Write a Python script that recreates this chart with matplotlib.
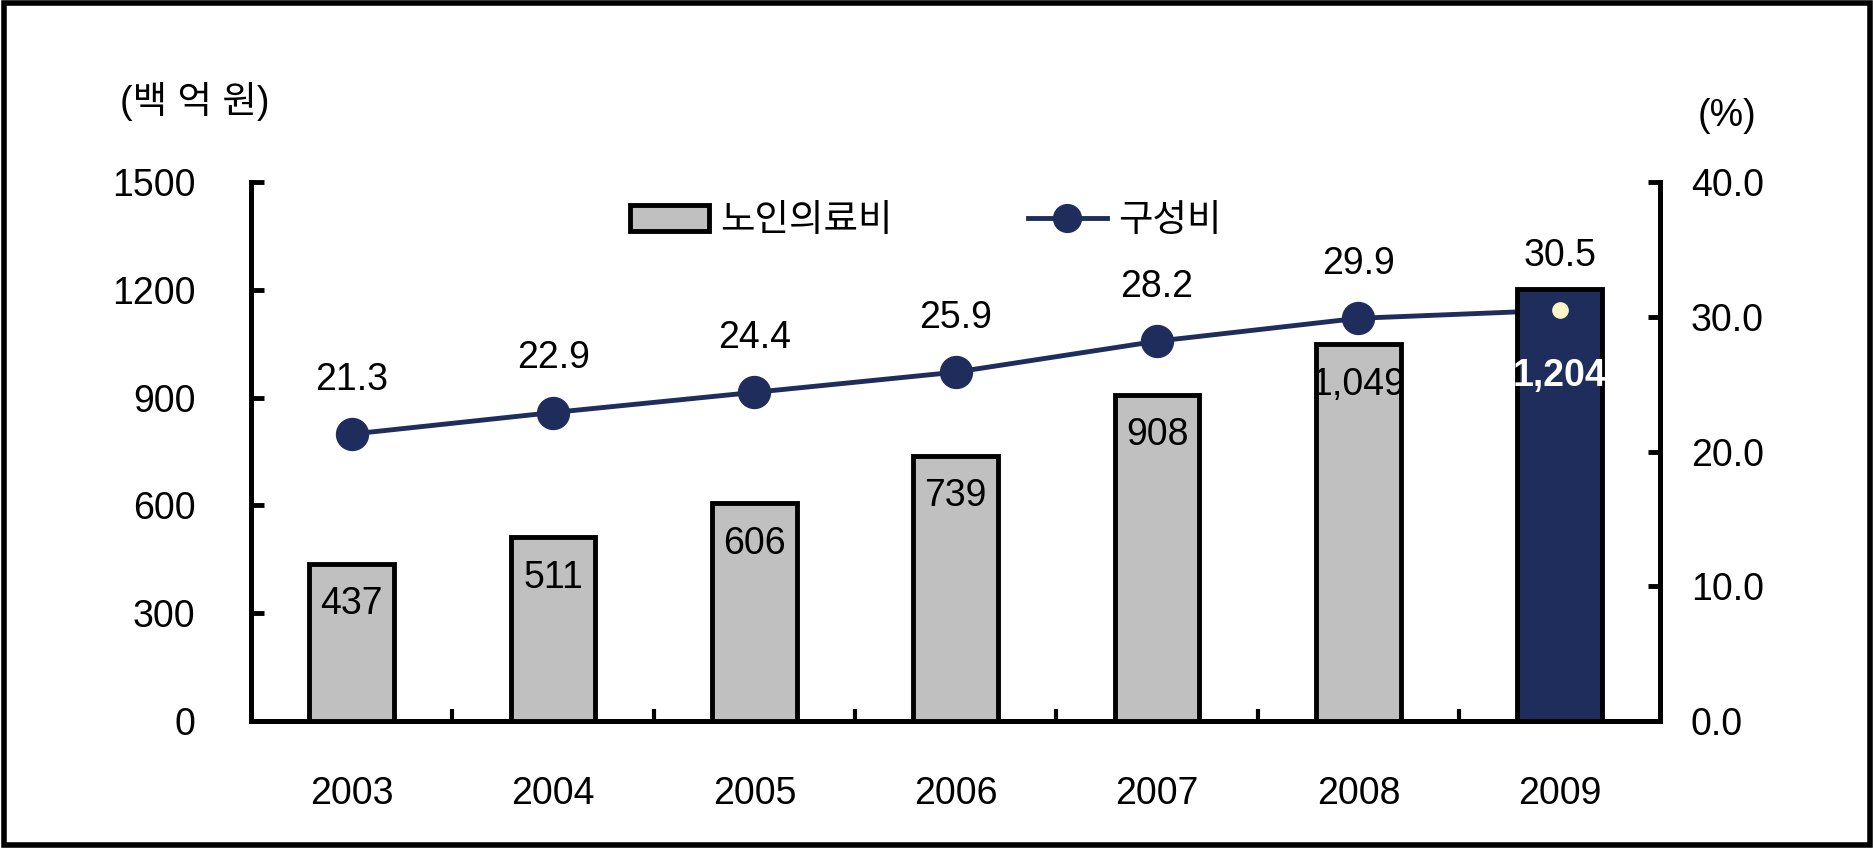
import matplotlib
matplotlib.use("Agg")
import matplotlib.pyplot as plt
from matplotlib.patches import Rectangle
from matplotlib.lines import Line2D

plt.rcParams['font.family'] = ['Liberation Sans', 'Noto Sans CJK KR', 'DejaVu Sans']

years = ['2003', '2004', '2005', '2006', '2007', '2008', '2009']
cost = [437, 511, 606, 739, 908, 1049, 1204]
share = [21.3, 22.9, 24.4, 25.9, 28.2, 29.9, 30.5]
cost_labels = ['437', '511', '606', '739', '908', '1,049', '1,204']
left_ticks = [0, 300, 600, 900, 1200, 1500]
right_ticks = [0, 10, 20, 30, 40]

navy = '#1f2d5c'
grey = '#c0c0c0'
fs = 27

fig = plt.figure(figsize=(18.74, 8.48), dpi=100)
ax = fig.add_axes([0.134, 0.150, 0.752, 0.635])
ax2 = ax.twinx()
# bars above the line so the 2009 bar hides the line end
ax.set_zorder(ax2.get_zorder() + 1)
ax.patch.set_visible(False)

x = list(range(len(years)))
colors = [grey] * (len(years) - 1) + [navy]
ax.bar(x, cost, width=0.42, color=colors, edgecolor='black', linewidth=3.5, zorder=3)
for i in x:
    if i == len(years) - 1:
        ax.annotate(cost_labels[i], (i, cost[i]), xytext=(0, -63), textcoords='offset points',
                    ha='center', va='center', fontsize=fs, color='white', weight='bold', zorder=5)
    else:
        ax.annotate(cost_labels[i], (i, cost[i]), xytext=(0, -29), textcoords='offset points',
                    ha='center', va='center', fontsize=fs, color='black', zorder=5)

ax2.plot(x, share, color=navy, linewidth=3.5, marker='o', markersize=23, zorder=2)
for i in x:
    ax2.annotate(f'{share[i]:.1f}', (i, share[i]), xytext=(0, 39), textcoords='offset points',
                 ha='center', va='center', fontsize=fs)
# small cream dot drawn over the 2009 bar
ax.plot(x[-1], share[-1], 'o', color='#fbf6c8', markersize=11, transform=ax2.transData,
        zorder=6, clip_on=False)

ax.set_xlim(-0.5, len(years) - 0.5)
ax.set_ylim(0, 1500)
ax2.set_ylim(0, 40)
ax.set_xticks(x)
ax.set_xticklabels(years, fontsize=fs)
ax.set_xticks([i + 0.5 for i in x[:-1]], minor=True)
ax.tick_params(axis='x', which='major', length=0, pad=40)
ax.tick_params(axis='x', which='minor', direction='in', length=9, width=3)
ax.set_yticks(left_ticks)
ax.set_yticklabels([str(v) for v in left_ticks], fontsize=fs)
ax.tick_params(axis='y', direction='in', length=9, width=3.5, pad=40)
ax2.set_yticks(right_ticks)
ax2.set_yticklabels([f'{v:.1f}' for v in right_ticks], fontsize=fs)
ax2.tick_params(axis='y', direction='in', length=9, width=3.5, pad=22)

for a in (ax, ax2):
    a.spines['top'].set_visible(False)
    for s in ('left', 'right', 'bottom'):
        a.spines[s].set_linewidth(3.5)

fig.text(0.064, 0.88, '(백 억 원)', fontsize=fs, ha='left', va='center')
fig.text(0.906, 0.863, '(%)', fontsize=fs, ha='left', va='center')

handles = [Rectangle((0, 0), 1, 1, facecolor=grey, edgecolor='black', linewidth=3.5),
           Line2D([], [], color=navy, linewidth=3.5, marker='o', markersize=20)]
fig.legend(handles, ['노인의료비', '구성비'], loc='center', bbox_to_anchor=(0.494, 0.739),
           ncol=2, frameon=False, fontsize=fs, handlelength=2.1, handletextpad=0.3,
           columnspacing=3.6)

fig.patches.append(Rectangle((0.002, 0.003), 0.996, 0.994, transform=fig.transFigure,
                             fill=False, edgecolor='black', linewidth=4))

fig.savefig('out.png', dpi=100)
